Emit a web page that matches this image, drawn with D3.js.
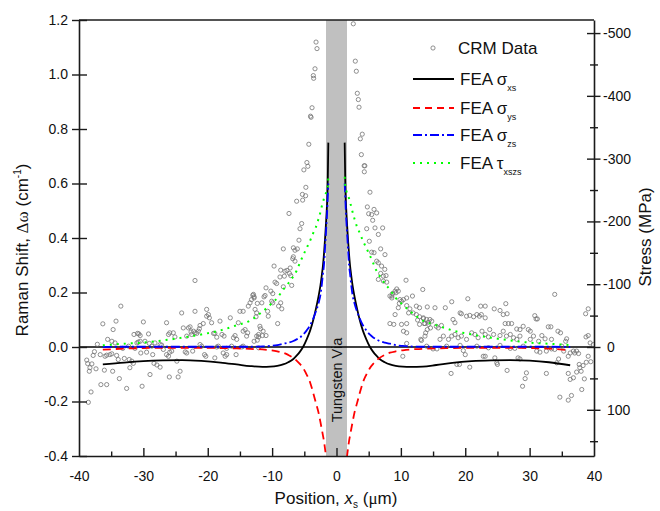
<!DOCTYPE html>
<html><head><meta charset="utf-8">
<script src="https://cdn.jsdelivr.net/npm/d3@7"></script>
<style>
body{margin:0;background:#fff}
svg{display:block;font-family:"Liberation Sans",Arial,sans-serif}
</style>
</head><body>
<svg id="c" width="660" height="511"></svg>
<script>
// ---------- data ----------
const xTicks = [-40,-30,-20,-10,0,10,20,30,40];
const xMinorTicks = [-35,-25,-15,-5,5,15,25,35];
const yTicks = [-0.4,-0.2,0,0.2,0.4,0.6,0.8,1.0,1.2];
const stressTicks = [-500,-400,-300,-200,-100,0,100];
const stressMinorTicks = [-450,-350,-250,-150,-50,50,150];
const mpaPerWavenumber = -434;
const viaRange = [-1.63, 1.63];

const feaXLeft  = [-36.3,-33,-30,-27,-24,-21,-18,-15.5,-13.4,-11.5,-10.3,-9.2,-8.3,-7.5,-6.7,-6.2,-5.7,-5.2,-4.6,-4.1,-3.6,-3.2,-2.8,-2.5,-2.3,-2.1,-1.95,-1.8,-1.64,-1.5,-1.43,-1.35,-1.27];
const feaXRight = [1.27,1.35,1.43,1.5,1.64,1.8,1.95,2.1,2.3,2.5,2.8,3.2,3.6,4.1,4.6,5.2,5.7,6.2,6.7,7.5,8.3,9.2,10.3,11.5,13.4,15.5,18,21,24,27,30,33,36.3];

const sigmaXsLeft  = [-0.064,-0.057,-0.052,-0.049,-0.048,-0.051,-0.057,-0.064,-0.070,-0.073,-0.072,-0.069,-0.064,-0.056,-0.044,-0.032,-0.018,0.0,0.03,0.06,0.10,0.14,0.185,0.225,0.26,0.30,0.34,0.39,0.45,0.51,0.545,0.62,0.75];
const sigmaXsRight = [0.75,0.62,0.545,0.51,0.45,0.39,0.34,0.30,0.26,0.225,0.185,0.14,0.10,0.06,0.03,0.0,-0.018,-0.032,-0.044,-0.056,-0.064,-0.069,-0.072,-0.073,-0.072,-0.066,-0.058,-0.052,-0.049,-0.048,-0.050,-0.056,-0.067];

const sigmaYsLeft  = [-0.010,-0.006,-0.004,-0.003,-0.003,-0.003,-0.004,-0.005,-0.007,-0.009,-0.012,-0.016,-0.021,-0.029,-0.040,-0.050,-0.062,-0.077,-0.103,-0.130,-0.170,-0.205,-0.24,-0.275,-0.30,-0.325,-0.345,-0.37,-0.40,-0.43,-0.45,-0.47,-0.50];
const sigmaYsRight = [-0.50,-0.47,-0.45,-0.43,-0.40,-0.37,-0.345,-0.325,-0.30,-0.275,-0.24,-0.205,-0.170,-0.130,-0.103,-0.077,-0.062,-0.050,-0.040,-0.029,-0.021,-0.016,-0.012,-0.009,-0.007,-0.005,-0.004,-0.003,-0.003,-0.003,-0.004,-0.006,-0.012];

const sigmaZsLeft  = [0.000,0.001,0.001,0.001,0.001,0.001,0.001,0.001,0.001,0.002,0.004,0.007,0.012,0.016,0.022,0.028,0.035,0.045,0.062,0.080,0.105,0.13,0.16,0.19,0.225,0.27,0.30,0.355,0.42,0.475,0.51,0.56,0.60];
const sigmaZsRight = [0.60,0.56,0.51,0.475,0.42,0.355,0.30,0.27,0.225,0.19,0.16,0.13,0.105,0.080,0.062,0.045,0.035,0.028,0.022,0.016,0.012,0.007,0.004,0.002,0.001,0.001,0.001,0.001,0.001,0.001,0.001,0.001,0.000];

const tauXsZsLeft  = [0.006,0.012,0.016,0.024,0.034,0.046,0.061,0.080,0.097,0.13,0.155,0.18,0.21,0.233,0.26,0.28,0.308,0.335,0.365,0.39,0.419,0.44,0.47,0.495,0.515,0.53,0.545,0.555,0.565,0.575,0.58,0.595,0.625];
const tauXsZsRight = [0.625,0.595,0.58,0.575,0.565,0.555,0.545,0.53,0.515,0.495,0.47,0.44,0.419,0.39,0.365,0.335,0.308,0.28,0.26,0.233,0.21,0.18,0.155,0.13,0.097,0.080,0.061,0.046,0.034,0.024,0.016,0.012,0.007];

const crmPoints = [
[-38.55,-0.203],[-38.13,-0.165],[-38.8,-0.048],[-38.65,-0.061],[-38.3,-0.076],[-38.4,-0.089],[-38.0,-0.062],[-37.8,-0.031],[-37.6,-0.017],[-37.36,-0.080],
[-37.15,0.010],[-36.7,-0.028],[-36.6,-0.138],[-36.3,0.085],[-36.06,-0.085],[-35.96,-0.034],[-35.7,-0.030],[-35.7,-0.138],[-35.55,0.028],[-35.2,-0.028],
[-34.9,-0.025],[-34.9,0.021],[-34.77,-0.089],[-34.7,0.064],[-34.25,0.095],[-34.4,0.015],[-34.15,-0.031],[-33.9,-0.046],[-33.73,-0.116],[-33.5,0.150],
[-33.2,-0.005],[-32.96,-0.042],[-32.6,-0.152],[-32.3,0.003],[-32.2,-0.046],[-31.8,-0.052],[-32.1,-0.076],[-31.56,-0.060],[-31.46,0.046],[-31.3,-0.005],
[-31.0,0.015],[-30.8,0.018],[-30.5,0.021],[-30.9,0.050],[-30.7,0.048],[-30.5,0.042],[-30.4,-0.022],[-30.2,-0.144],[-30.0,0.092],[-29.75,0.021],
[-29.5,-0.019],[-29.2,0.048],[-29.07,0.013],[-28.97,-0.101],[-28.7,0.003],[-28.55,-0.028],[-28.35,-0.060],[-27.9,-0.066],[-28.2,0.015],[-27.4,-0.074],
[-27.4,0.009],[-27.16,0.007],[-26.9,-0.009],[-26.4,0.089],[-26.4,-0.028],[-26.1,-0.034],[-25.97,-0.110],[-25.9,-0.019],[-25.6,-0.015],[-26.1,0.046],
[-25.9,0.052],[-25.35,0.052],[-25.1,0.037],[-24.8,-0.052],[-24.6,-0.110],[-24.3,-0.089],[-24.05,0.125],[-23.8,0.070],[-23.5,-0.018],[-23.27,-0.022],
[-23.27,0.040],[-23.0,0.070],[-22.75,0.074],[-22.6,0.055],[-22.5,0.046],[-22.2,0.058],[-21.98,0.052],[-22.34,-0.015],[-21.98,0.131],[-21.98,0.244],
[-21.7,0.050],[-21.46,0.058],[-21.3,0.067],[-21.2,0.079],[-21.2,0.009],[-20.94,0.003],[-20.7,0.086],[-20.5,-0.028],[-20.3,-0.034],[-20.17,0.113],
[-19.9,0.119],[-19.75,0.107],[-20.17,0.138],[-19.4,0.089],[-19.1,0.050],[-18.9,0.050],[-18.6,0.036],[-18.6,0.0],[-18.9,-0.040],[-18.35,0.003],
[-18.1,0.095],[-17.8,0.046],[-17.47,0.040],[-17.6,-0.022],[-17.3,-0.034],[-17.06,-0.028],[-17.06,-0.005],[-16.5,0.107],[-16.3,0.003],[-16.0,0.034],
[-15.76,0.042],[-15.5,0.028],[-15.6,-0.028],[-15.25,0.089],[-15.0,0.131],[-14.7,0.0],[-14.5,0.003],[-14.5,0.131],[-14.5,0.058],[-14.2,0.064],
[-13.96,0.040],[-13.8,0.052],[-13.7,0.150],[-13.43,0.162],[-13.2,0.174],[-13.0,0.190],[-12.8,0.180],[-12.65,0.138],[-12.4,0.125],[-12.1,0.046],[-12.1,0.037],
[-6.19,0.535],[-5.26,0.539],[-7.38,0.490],[-5.41,0.453],[-5.67,0.434],[-5.83,0.392],[-8.26,0.360],[-6.7,0.364],[-6.08,0.360],[-6.45,0.355],
[-6.7,0.331],[-6.8,0.324],[-6.45,0.315],[-9.7,0.297],[-8.67,0.282],[-8.0,0.278],[-7.7,0.281],[-7.2,0.290],[-8.78,0.257],[-8.1,0.260],
[-7.3,0.270],[-7.1,0.262],[-9.55,0.238],[-9.3,0.233],[-8.26,0.221],[-6.96,0.226],[-10.95,0.217],[-10.2,0.205],[-9.9,0.196],[-11.1,0.189],
[-11.26,0.184],[-12.9,0.193],[-12.8,0.184],[-11.6,0.162],[-12.3,0.160],[-10.07,0.168],[-9.9,0.162],[-8.67,0.162],[-9.0,0.150],[-8.5,0.140],
[-10.7,0.131],[-10.6,0.113],[-12.5,0.111],[-9.14,0.086],[-11.9,0.076],[-11.8,0.067],[-11.4,0.058],[-10.95,0.042],[-11.5,0.042],[-12.4,0.040],
[-12.3,0.025],[-12.8,0.021],[-12.1,-0.003],
[4.79,0.514],[5.0,0.489],[5.46,0.486],[5.83,0.505],[6.24,0.492],[5.62,0.465],[4.69,0.434],[5.98,0.437],[7.17,0.437],[5.1,0.388],
[6.5,0.413],[6.86,0.360],[5.46,0.348],[5.83,0.346],[7.53,0.339],[6.24,0.315],[6.5,0.309],[7.0,0.297],[7.5,0.285],[7.69,0.262],
[6.5,0.248],[6.86,0.270],[7.28,0.260],[7.28,0.242],[7.8,0.238],[10.8,0.245],[13.4,0.211],[9.35,0.213],[9.1,0.205],[9.24,0.199],
[9.6,0.205],[8.7,0.196],[8.6,0.187],[8.3,0.187],[8.6,0.180],[9.86,0.174],[10.1,0.168],[10.4,0.174],[10.9,0.180],[11.8,0.187],
[9.76,0.160],[9.6,0.144],[9.1,0.119],[10.9,0.152],[11.4,0.140],[12.4,0.150],[12.9,0.144],[11.2,0.125],[11.9,0.125],[12.4,0.119],
[12.9,0.111],[13.5,0.104],[14.0,0.101],[13.75,0.086],[14.25,0.091],[10.1,0.083],[10.9,0.086],[12.6,0.099],[12.9,0.083],[10.4,0.058],
[10.9,0.052],[8.3,0.086],[8.9,0.083],[13.85,0.052],[13.75,0.040],[13.1,0.028],[13.2,0.024],[10.9,0.013],[10.3,-0.034],
[2.61,1.186],[-3.18,1.119],[-3.03,1.095],[2.92,1.049],[3.08,1.012],[-3.34,1.021],[-3.6,0.996],[-3.55,0.986],[3.23,0.931],[3.39,0.908],
[3.5,0.880],[-3.8,0.878],[-4.04,0.847],[-3.95,0.843],[4.0,0.781],[3.7,0.764],[-4.3,0.744],[3.86,0.706],[-4.6,0.677],[-4.45,0.663],
[-5.07,0.650],[4.3,0.665],[4.4,0.665],[4.32,0.643],[-4.76,0.586],[-5.3,0.56],[-4.8,0.555],[5.2,0.568],
[14.1,0.147],[15.3,0.144],[16.9,0.144],[17.9,0.166],[20.4,0.177],[22.4,0.150],[24.5,0.140],[25.4,0.134],[26.3,0.159],[26.5,0.122],
[13.5,0.107],[14.5,0.101],[13.6,0.086],[14.3,0.083],[14.8,0.095],[14.1,0.064],[14.6,0.070],[15.5,0.076],[15.8,0.070],[16.3,0.079],
[18.1,0.101],[18.4,0.089],[19.2,0.125],[19.4,0.122],[20.2,0.113],[20.7,0.116],[21.3,0.111],[21.8,0.119],[22.2,0.113],[22.5,0.119],
[23.1,0.107],[23.1,0.150],[25.9,0.119],[26.2,0.086],[26.7,0.086],[27.2,0.086],[28.0,0.066],[28.5,0.064],[29.0,0.076],[29.8,0.064],
[30.1,0.058],[30.8,0.115],[31.0,0.103],[31.2,0.103],[32.9,0.074],[33.3,0.074],[33.9,0.193],[34.4,0.058],[34.8,0.052],[35.75,0.030],
[35.6,0.021],[38.76,0.037],[39.1,0.042],[38.7,0.122],[39.1,0.140],[39.4,0.015],[39.9,0.009],
[16.08,0.028],[16.6,0.040],[17.4,0.028],[17.9,0.040],[18.4,0.046],[18.9,0.034],[19.4,0.040],[20.2,0.028],[21.0,0.052],[21.5,0.046],
[22.0,0.034],[22.6,0.058],[23.1,0.046],[23.6,0.037],[23.8,0.064],[24.4,0.046],[25.4,0.042],[25.9,0.058],[26.4,0.040],[27.0,0.046],
[27.5,0.034],[28.0,0.028],[28.5,0.040],[30.1,0.028],[30.6,0.040],[31.4,0.021],[31.9,0.042],[32.4,0.030],[33.4,0.028],
[14.0,0.003],[15.0,-0.007],[15.6,-0.007],[17.1,0.003],[19.2,0.006],[21.8,0.003],[23.6,-0.003],[25.4,0.006],[27.0,-0.005],[27.7,-0.005],
[29.0,0.003],[31.1,-0.015],[31.6,-0.019],[32.6,-0.015],[33.4,-0.007],[33.9,-0.009],
[17.8,-0.097],[18.7,-0.064],[19.1,-0.064],[19.7,-0.013],[20.0,-0.028],[20.7,-0.074],[22.8,-0.034],[23.1,-0.034],[24.6,-0.040],[24.9,-0.058],
[25.0,-0.064],[26.5,-0.086],[28.2,-0.040],[28.5,-0.044],[28.9,-0.144],[29.3,-0.116],[29.5,-0.095],[32.6,-0.097],[34.2,-0.058],[34.5,-0.044],
[35.0,0.003],[35.3,-0.015],[36.0,-0.034],[36.3,-0.022],[36.8,-0.015],[37.0,-0.022],[37.3,-0.015],[37.6,-0.024],[36.0,-0.097],[36.3,-0.119],
[36.8,-0.113],[37.3,-0.092],[34.7,-0.184],[36.0,-0.195],[36.5,-0.178],[37.7,-0.064],[37.8,-0.076],[38.0,-0.089],[38.3,-0.068],[38.1,-0.156],
[38.5,-0.117],[38.8,-0.056],[39.1,-0.034],[39.5,-0.054]
];

// ---------- layout ----------
const svg = d3.select("#c");
const L = 79, R = 594, T = 20, B = 456;
const x = d3.scaleLinear().domain([-40, 40]).range([L, R]);
const y = d3.scaleLinear().domain([-0.4, 1.2]).range([B, T]);
const yS = d3.scaleLinear()
  .domain([-0.4 * mpaPerWavenumber, 1.2 * mpaPerWavenumber]).range([B, T]);
const axisColor = "#1a1a1a";

svg.append("defs").append("clipPath").attr("id", "clip")
  .append("rect").attr("x", L).attr("y", T).attr("width", R - L).attr("height", B - T);

const plot = svg.append("g").attr("clip-path", "url(#clip)");

// tungsten via band
plot.append("rect")
  .attr("x", x(viaRange[0])).attr("y", T)
  .attr("width", x(viaRange[1]) - x(viaRange[0])).attr("height", B - T)
  .attr("fill", "#c0c0c0");

// zero line
plot.append("line")
  .attr("x1", L).attr("x2", R).attr("y1", y(0)).attr("y2", y(0))
  .attr("stroke", "#000").attr("stroke-width", 1.3);

// via label
svg.append("text")
  .attr("transform", `translate(${x(0) + 5},${380}) rotate(-90)`)
  .attr("text-anchor", "middle").attr("font-size", 14.5).attr("fill", "#111")
  .text("Tungsten Via");

// CRM scatter
plot.append("g").selectAll("circle").data(crmPoints).join("circle")
  .attr("cx", d => x(d[0])).attr("cy", d => y(d[1])).attr("r", 2.1)
  .attr("fill", "none").attr("stroke", "#737373").attr("stroke-width", 0.8);

// FEA curves
const line = d3.line().x(d => x(d[0])).y(d => y(d[1])).curve(d3.curveMonotoneX);
const zip = (xs, ys) => xs.map((v, i) => [v, ys[i]]);
const seriesStyles = [
  {l: sigmaXsLeft, r: sigmaXsRight, color: "#000000", dash: null, w: 1.8},
  {l: sigmaYsLeft, r: sigmaYsRight, color: "#ff0000", dash: "8,5", w: 1.8},
  {l: sigmaZsLeft, r: sigmaZsRight, color: "#0000ff", dash: "9,3,2,3", w: 1.8},
  {l: tauXsZsLeft, r: tauXsZsRight, color: "#00ff00", dash: "2,5", w: 2}
];
seriesStyles.forEach(s => {
  [zip(feaXLeft, s.l), zip(feaXRight, s.r)].forEach(pts => {
    plot.append("path").attr("d", line(pts))
      .attr("fill", "none").attr("stroke", s.color).attr("stroke-width", s.w)
      .attr("stroke-dasharray", s.dash);
  });
});

// frame
svg.append("line").attr("x1", L).attr("x2", R).attr("y1", T).attr("y2", T)
  .attr("stroke", axisColor).attr("stroke-width", 1.6);

// ---------- axes ----------
function styleAxis(g) {
  g.select(".domain").attr("stroke", axisColor).attr("stroke-width", 1.6);
  g.selectAll(".tick line").attr("stroke", axisColor).attr("stroke-width", 1.4);
  g.selectAll(".tick text").attr("fill", "#111").attr("font-size", 14)
    .attr("font-family", "'Liberation Sans',Arial,sans-serif");
}

// bottom major
const gx = svg.append("g").attr("transform", `translate(0,${B})`)
  .call(d3.axisBottom(x).tickValues(xTicks).tickSize(-8).tickPadding(15)
    .tickFormat(d => String(d)).tickSizeOuter(0));
styleAxis(gx);
gx.selectAll(".tick").filter(d => d === -40 || d === 40).select("line").remove();
// bottom minor
const gxm = svg.append("g").attr("transform", `translate(0,${B})`)
  .call(d3.axisBottom(x).tickValues(xMinorTicks).tickSize(-4.5).tickFormat(""));
gxm.select(".domain").remove();
gxm.selectAll(".tick line").attr("stroke", axisColor).attr("stroke-width", 1.4);

// left
const gy = svg.append("g").attr("transform", `translate(${L},0)`)
  .call(d3.axisLeft(y).tickValues(yTicks).tickSize(7).tickPadding(4)
    .tickFormat(d => d.toFixed(1)).tickSizeOuter(0));
styleAxis(gy);
gy.selectAll(".tick line").attr("x1", 8).attr("x2", -7);

// right major
const gr = svg.append("g").attr("transform", `translate(${R},0)`)
  .call(d3.axisRight(yS).tickValues(stressTicks).tickSize(7).tickPadding(0)
    .tickFormat(d => String(d)).tickSizeOuter(0));
styleAxis(gr);
gr.selectAll(".tick line").attr("x1", -7).attr("x2", 6.5);
gr.selectAll(".tick text").attr("x", d => d < 0 ? 9 : 13);
// right minor
const grm = svg.append("g").attr("transform", `translate(${R},0)`)
  .call(d3.axisRight(yS).tickValues(stressMinorTicks).tickSize(4).tickFormat(""));
grm.select(".domain").remove();
grm.selectAll(".tick line").attr("x1", -4).attr("x2", 4)
  .attr("stroke", axisColor).attr("stroke-width", 1.4);

// ---------- titles ----------
const xt = svg.append("text").attr("x", 336).attr("y", 504)
  .attr("text-anchor", "middle").attr("font-size", 17).attr("fill", "#111");
xt.append("tspan").text("Position, ");
xt.append("tspan").attr("font-style", "italic").text("x");
xt.append("tspan").attr("font-size", 10).attr("dy", 4).text("s");
xt.append("tspan").attr("dy", -4).text(" (");
xt.append("tspan").attr("font-family", "'Liberation Serif','Times New Roman',serif").text("μ");
xt.append("tspan").text("m)");

const yt = svg.append("text")
  .attr("transform", "translate(28,250) rotate(-90)")
  .attr("text-anchor", "middle").attr("font-size", 17).attr("fill", "#111");
yt.append("tspan").text("Raman Shift, ");
yt.append("tspan").attr("font-family", "'Liberation Serif','Times New Roman',serif").text("Δω");
yt.append("tspan").text(" (cm");
yt.append("tspan").attr("font-size", 10).attr("dy", -7).text("-1");
yt.append("tspan").attr("dy", 7).text(")");

svg.append("text")
  .attr("transform", "translate(651,237) rotate(-90)")
  .attr("text-anchor", "middle").attr("font-size", 17).attr("fill", "#111")
  .text("Stress (MPa)");

// ---------- legend ----------
const lg = svg.append("g");
lg.append("circle").attr("cx", 433).attr("cy", 48).attr("r", 2.1)
  .attr("fill", "none").attr("stroke", "#737373").attr("stroke-width", 0.8);
lg.append("text").attr("x", 458).attr("y", 54).attr("font-size", 17).attr("fill", "#111").text("CRM Data");
const legendRows = [
  {y: 79, color: "#000000", dash: null, w: 1.8, sym: "σ", sub: "xs"},
  {y: 108, color: "#ff0000", dash: "7,5", w: 1.8, sym: "σ", sub: "ys"},
  {y: 135, color: "#0000ff", dash: "9,3,2,3", w: 1.8, sym: "σ", sub: "zs"},
  {y: 163, color: "#00ff00", dash: "2,5", w: 2, sym: "τ", sub: "xszs"}
];
legendRows.forEach(r => {
  lg.append("line").attr("x1", 413).attr("x2", 454).attr("y1", r.y).attr("y2", r.y)
    .attr("stroke", r.color).attr("stroke-width", r.w).attr("stroke-dasharray", r.dash);
  const t = lg.append("text").attr("x", 460).attr("y", r.y + 6).attr("font-size", 17).attr("fill", "#111");
  t.append("tspan").text("FEA ");
  t.append("tspan").text(r.sym);
  t.append("tspan").attr("font-size", 9).attr("dy", 6).text(r.sub);
});
</script>
</body></html>
